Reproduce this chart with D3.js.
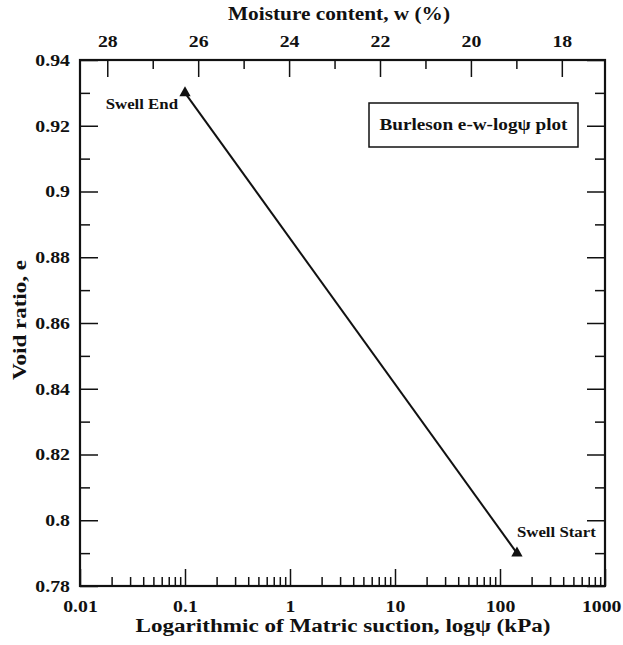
<!DOCTYPE html>
<html>
<head>
<meta charset="utf-8">
<script src="https://cdn.jsdelivr.net/npm/d3@7"></script>
<style>
  body { margin: 0; background: #fff; }
  svg text { font-family: "Liberation Serif", Tinos, "Times New Roman", Times, serif !important; font-weight: bold; fill: #111; }
</style>
</head>
<body>
<svg id="chart" width="623" height="645"></svg>
<script>
// Swell path endpoints on the Burleson e–w–logψ plane
const pointLabels = ["Swell End", "Swell Start"];
const suctionKPa = [0.1, 145];
const voidRatio = [0.93, 0.79];

// Axis ticks
const suctionTicks = [0.01, 0.1, 1, 10, 100, 1000];
const voidTicks = [0.78, 0.80, 0.82, 0.84, 0.86, 0.88, 0.90, 0.92, 0.94];
const voidTickLabels = ["0.78", "0.8", "0.82", "0.84", "0.86", "0.88", "0.9", "0.92", "0.94"];
const moistureTicks = [28, 26, 24, 22, 20, 18];

const legendText = "Burleson e-w-logψ plot";
const xTitle = "Logarithmic of Matric suction, logψ (kPa)";
const topTitle = "Moisture content, w (%)";
const yTitle = "Void ratio, e";

const svg = d3.select("#chart");
const plot = { left: 80, right: 605, top: 60, bottom: 586 };
const STRETCH = 1.2;

const x = d3.scaleLog().domain([0.01, 1000]).range([plot.left, plot.right]);
const y = d3.scaleLinear().domain([0.78, 0.94]).range([plot.bottom, plot.top]);
const w = d3.scaleLinear().domain([28.6, 17.05]).range([plot.left, plot.right]);

function styleAxis(g, stroke) {
  g.attr("font-family", null);
  g.select(".domain").remove();
  g.selectAll(".tick line").attr("stroke", "#111").attr("stroke-width", stroke);
}

// widen tick labels horizontally, keeping their anchor point
function stretchLabels(g) {
  g.selectAll(".tick text").each(function () {
    const t = d3.select(this);
    const tx = +t.attr("x") || 0;
    t.attr("x", tx / STRETCH).attr("transform", `scale(${STRETCH},1)`);
  });
}

const labelFont = 16.5;

// bottom: logarithmic suction
const bottomMinor = x.ticks().filter(d => !suctionTicks.some(t => Math.abs(t - d) / t < 1e-9));
svg.append("g").attr("transform", `translate(0,${plot.bottom})`)
  .call(d3.axisBottom(x).tickValues(bottomMinor).tickSize(-9).tickFormat(""))
  .call(g => styleAxis(g, 1.5));
svg.append("g").attr("transform", `translate(0,${plot.bottom})`)
  .call(d3.axisBottom(x).tickValues(suctionTicks).tickSize(-17).tickPadding(14)
    .tickFormat(d => String(d)))
  .call(g => styleAxis(g, 1.5))
  .call(g => g.selectAll("text").attr("font-size", labelFont).attr("fill", "#111"))
  .call(stretchLabels)
  // keep the last label inside the page edge
  .call(g => g.selectAll(".tick text").filter(d => d === 1000)
    .attr("text-anchor", "end").attr("x", 16 / STRETCH));

// top: moisture content
const topMinor = w.ticks(12).filter(d => !moistureTicks.includes(d));
svg.append("g").attr("transform", `translate(0,${plot.top})`)
  .call(d3.axisTop(w).tickValues(topMinor).tickSize(-9).tickFormat(""))
  .call(g => styleAxis(g, 1.5));
svg.append("g").attr("transform", `translate(0,${plot.top})`)
  .call(d3.axisTop(w).tickValues(moistureTicks).tickSize(-17).tickPadding(13)
    .tickFormat(d => String(d)))
  .call(g => styleAxis(g, 1.5))
  .call(g => g.selectAll("text").attr("font-size", labelFont).attr("fill", "#111"))
  .call(stretchLabels);

// left and right: void ratio
const yMinor = y.ticks(16).filter(d => !voidTicks.some(t => Math.abs(t - d) < 1e-6));
svg.append("g").attr("transform", `translate(${plot.left},0)`)
  .call(d3.axisLeft(y).tickValues(yMinor).tickSize(-10).tickFormat(""))
  .call(g => styleAxis(g, 1.5));
svg.append("g").attr("transform", `translate(${plot.left},0)`)
  .call(d3.axisLeft(y).tickValues(voidTicks).tickSize(-18).tickPadding(10)
    .tickFormat((d, i) => voidTickLabels[i]))
  .call(g => styleAxis(g, 1.5))
  .call(g => g.selectAll("text").attr("font-size", labelFont).attr("fill", "#111"))
  .call(stretchLabels);
svg.append("g").attr("transform", `translate(${plot.right},0)`)
  .call(d3.axisRight(y).tickValues(yMinor).tickSize(-10).tickFormat(""))
  .call(g => styleAxis(g, 1.5));
svg.append("g").attr("transform", `translate(${plot.right},0)`)
  .call(d3.axisRight(y).tickValues(voidTicks).tickSize(-18).tickFormat(""))
  .call(g => styleAxis(g, 1.5));

// frame
svg.append("rect")
  .attr("x", plot.left).attr("y", plot.top)
  .attr("width", plot.right - plot.left).attr("height", plot.bottom - plot.top)
  .attr("fill", "none").attr("stroke", "#111").attr("stroke-width", 2.2);

// swell path
const pts = suctionKPa.map((s, i) => ({ s, e: voidRatio[i], label: pointLabels[i] }));
svg.append("path")
  .datum(pts)
  .attr("d", d3.line().x(d => x(d.s)).y(d => y(d.e)))
  .attr("fill", "none").attr("stroke", "#111").attr("stroke-width", 2);

svg.selectAll(".marker").data(pts).join("path")
  .attr("class", "marker")
  .attr("transform", d => `translate(${x(d.s)},${y(d.e)})`)
  .attr("d", d3.symbol(d3.symbolTriangle).size(55))
  .attr("fill", "#111");

// point labels
const labelPos = [
  { dx: -7, dy: 16, anchor: "end" },
  { dx: 0, dy: -16, anchor: "start" }
];
svg.selectAll(".pt-label").data(pts).join("text")
  .attr("class", "pt-label")
  .attr("transform", (d, i) => `translate(${x(d.s) + labelPos[i].dx},${y(d.e) + labelPos[i].dy}) scale(${STRETCH},1)`)
  .attr("text-anchor", (d, i) => labelPos[i].anchor)
  .attr("font-size", 14)
  .text(d => d.label);

// legend box
const legend = svg.append("g");
legend.append("rect")
  .attr("x", 369).attr("y", 103).attr("width", 209).attr("height", 44)
  .attr("fill", "#fff").attr("stroke", "#111").attr("stroke-width", 1.5);
legend.append("text")
  .attr("transform", `translate(473.5,130) scale(${STRETCH},1)`)
  .attr("text-anchor", "middle")
  .attr("font-size", 16)
  .text(legendText);

// axis titles
svg.append("text")
  .attr("x", 343).attr("y", 632)
  .attr("text-anchor", "middle").attr("font-size", 18)
  .attr("textLength", 415).attr("lengthAdjust", "spacingAndGlyphs")
  .text(xTitle);
svg.append("text")
  .attr("x", 339).attr("y", 20)
  .attr("text-anchor", "middle").attr("font-size", 19)
  .attr("textLength", 222).attr("lengthAdjust", "spacingAndGlyphs")
  .text(topTitle);
svg.append("text")
  .attr("transform", "translate(26,320) rotate(-90)")
  .attr("text-anchor", "middle").attr("font-size", 19)
  .attr("textLength", 120).attr("lengthAdjust", "spacingAndGlyphs")
  .text(yTitle);
</script>
</body>
</html>
